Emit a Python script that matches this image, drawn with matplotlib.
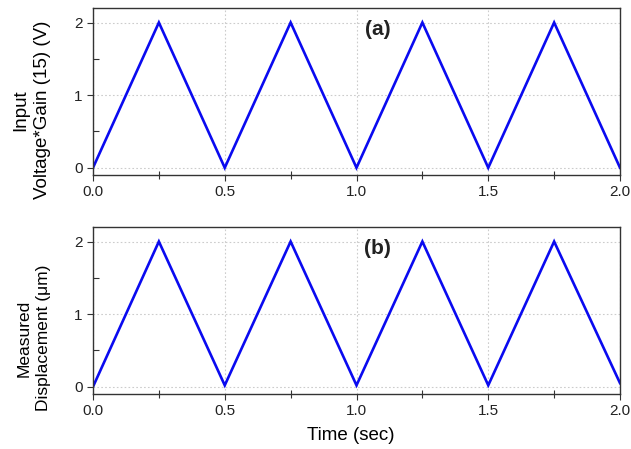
import matplotlib
matplotlib.use("Agg")
import matplotlib.pyplot as plt
from matplotlib.ticker import MultipleLocator

plt.rcParams['font.family'] = ['Liberation Sans', 'DejaVu Sans']

# Triangle drive signal and measured response (vertices of each ramp)
time_s = [0.0, 0.25, 0.5, 0.75, 1.0, 1.25, 1.5, 1.75, 2.0]
input_v = [0, 2, 0, 2, 0, 2, 0, 2, 0]
disp_um = [0.0, 2.0, 0.02, 2.0, 0.02, 2.0, 0.02, 2.0, 0.05]

ylabels = ["Input\nVoltage*Gain (15) (V)", "Measured\nDisplacement (\u03bcm)"]
ylabel_sizes = [13.5, 12.5]
ylabel_pos = [0.39, 0.335]
panel_tags = ["(a)", "(b)"]
xticks = [0.0, 0.5, 1.0, 1.5, 2.0]
yticks = [0, 1, 2]

fig = plt.figure(figsize=(6.31, 4.49), dpi=100)
ax_top = fig.add_axes([93/631, 1 - 175/449, 527/631, 167/449])
ax_bot = fig.add_axes([93/631, 1 - 394/449, 527/631, 167/449])

for ax, y, lab, fs, ly, tag in zip([ax_top, ax_bot], [input_v, disp_um], ylabels,
                                   ylabel_sizes, ylabel_pos, panel_tags):
    ax.plot(time_s, y, color='#0a0af0', lw=1.9, solid_joinstyle='miter')
    ax.set_xlim(0, 2.0)
    ax.set_ylim(-0.1, 2.2)
    ax.set_xticks(xticks)
    ax.set_xticklabels([f"{t:.1f}" for t in xticks])
    ax.set_yticks(yticks)
    ax.xaxis.set_minor_locator(MultipleLocator(0.25))
    ax.yaxis.set_minor_locator(MultipleLocator(0.5))
    ax.grid(True, which='major', color='#cccccc', ls=(0, (1.5, 2)), lw=0.8)
    ax.tick_params(which='major', direction='out', length=4, width=0.8,
                   labelsize=11, color='#333333', labelcolor='#222222')
    ax.tick_params(axis='x', which='minor', direction='inout', length=6, width=0.8, color='#333333')
    ax.tick_params(axis='y', which='minor', direction='in', length=4, width=0.8, color='#333333')
    for sp in ax.spines.values():
        sp.set_linewidth(1.0)
        sp.set_color('#333333')
    ax.set_ylabel(lab, fontsize=fs, linespacing=1.32)
    ax.yaxis.set_label_coords(-0.08, ly)
    ax.text(1.08, 1.9, tag, fontsize=15, fontweight='bold', ha='center', va='center', color='#222222')

ax_bot.set_xlabel("Time (sec)", fontsize=13.5, labelpad=7)
ax_bot.xaxis.set_label_coords(0.49, -0.2)

fig.savefig("out.png", dpi=100, facecolor='white')
